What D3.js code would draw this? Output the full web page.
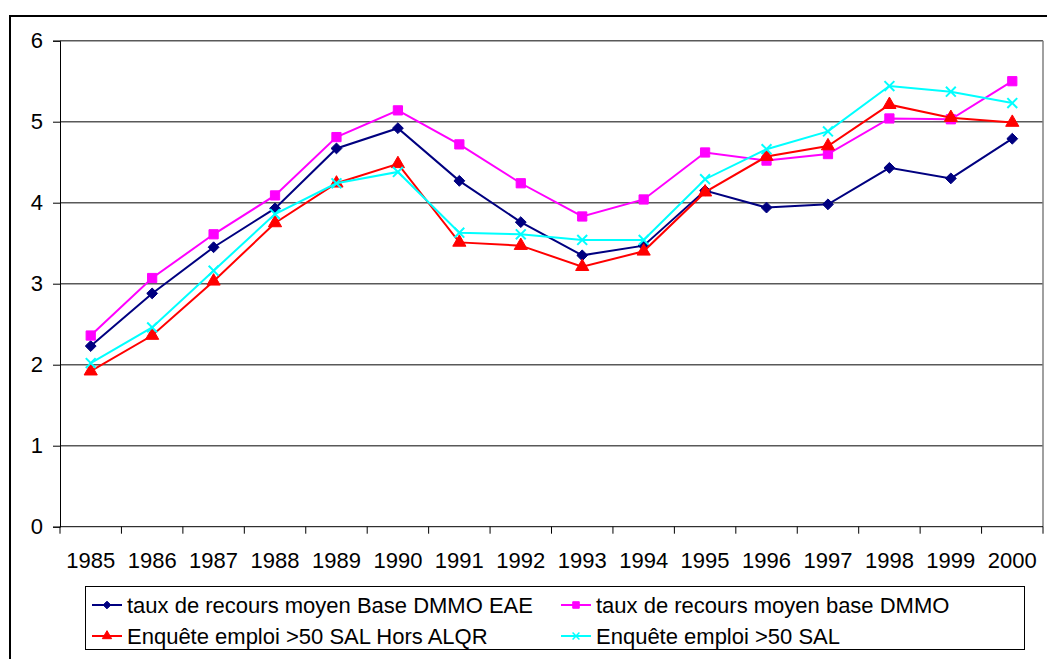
<!DOCTYPE html>
<html>
<head>
    <script src="https://d3js.org/d3.v7.min.js"></script>
    <style>
        body, html { margin: 0; background: #fff; overflow: hidden; }
        text { font-family: Arial, "Liberation Sans", sans-serif; fill: #000; }
    </style>
</head>
<body>
<div id="chart"></div>
<script>
    const years = ["1985","1986","1987","1988","1989","1990","1991","1992","1993","1994","1995","1996","1997","1998","1999","2000"];
    const yTicks = [0, 1, 2, 3, 4, 5, 6];

    const dmmoEae  = [2.23, 2.88, 3.45, 3.93, 4.67, 4.92, 4.27, 3.76, 3.35, 3.47, 4.15, 3.94, 3.98, 4.43, 4.30, 4.79];
    const dmmo     = [2.36, 3.07, 3.61, 4.09, 4.81, 5.14, 4.72, 4.24, 3.83, 4.04, 4.62, 4.52, 4.60, 5.04, 5.03, 5.50];
    const horsAlqr = [1.92, 2.36, 3.03, 3.75, 4.24, 4.48, 3.51, 3.47, 3.21, 3.40, 4.13, 4.57, 4.70, 5.21, 5.05, 4.99];
    const sal50    = [2.02, 2.46, 3.16, 3.86, 4.24, 4.38, 3.63, 3.61, 3.54, 3.54, 4.29, 4.66, 4.88, 5.44, 5.37, 5.23];

    const series = [
        {name: "taux de recours moyen Base DMMO EAE", values: dmmoEae, color: "#000080", symbol: d3.symbolDiamond2, size: 75},
        {name: "taux de recours moyen base DMMO", values: dmmo, color: "#ff00ff", symbol: d3.symbolSquare, size: 85},
        {name: "Enquête emploi >50 SAL Hors ALQR", values: horsAlqr, color: "#ff0000", symbol: d3.symbolTriangle, size: 75},
        {name: "Enquête emploi >50 SAL", values: sal50, color: "#00ffff", symbol: d3.symbolX, size: 65}
    ];

    const width = 1047, height = 659;
    const plot = {left: 60, right: 1043, top: 40.7, bottom: 526.7};
    const fontSize = "22px";

    const svg = d3.select("#chart").append("svg")
        .attr("width", width).attr("height", height);

    // outer chart border (runs off the right and bottom edges)
    svg.append("rect")
        .attr("x", 10).attr("y", 16)
        .attr("width", 1060).attr("height", 660)
        .attr("fill", "none").attr("stroke", "#000").attr("stroke-width", 2);

    const x = d3.scaleBand().domain(years).range([plot.left, plot.right]);
    const y = d3.scaleLinear().domain([0, 6]).range([plot.bottom, plot.top]);

    // gridlines
    svg.append("g").selectAll("line")
        .data(yTicks.filter(d => d > 0))
        .join("line")
        .attr("x1", plot.left).attr("x2", plot.right)
        .attr("y1", d => y(d)).attr("y2", d => y(d))
        .attr("stroke", "#595959").attr("stroke-width", 1.5);

    // plot area right border
    svg.append("line")
        .attr("x1", plot.right).attr("x2", plot.right)
        .attr("y1", plot.top).attr("y2", plot.bottom)
        .attr("stroke", "#808080").attr("stroke-width", 1.5);

    // y axis
    const yAxis = svg.append("g")
        .attr("transform", `translate(${plot.left},0)`)
        .call(d3.axisLeft(y).tickValues(yTicks).tickSize(7).tickPadding(10).tickFormat(d3.format("d")));
    yAxis.select(".domain").attr("stroke", "#000");
    yAxis.selectAll("text").style("font-size", fontSize);

    // x axis, ticks between categories
    svg.append("line")
        .attr("x1", plot.left).attr("x2", plot.right)
        .attr("y1", plot.bottom).attr("y2", plot.bottom)
        .attr("stroke", "#000");
    svg.append("g").selectAll("line")
        .data(years.concat(["end"]))
        .join("line")
        .attr("x1", (d, i) => plot.left + i * x.step())
        .attr("x2", (d, i) => plot.left + i * x.step())
        .attr("y1", plot.bottom).attr("y2", plot.bottom + 7)
        .attr("stroke", "#000");
    svg.append("g").selectAll("text")
        .data(years)
        .join("text")
        .attr("x", d => x(d) + x.bandwidth() / 2)
        .attr("y", 568)
        .attr("text-anchor", "middle")
        .style("font-size", fontSize)
        .text(d => d);

    const cx = (d, i) => x(years[i]) + x.bandwidth() / 2;
    const line = d3.line().x(cx).y(d => y(d));

    series.forEach(s => {
        svg.append("path")
            .datum(s.values)
            .attr("d", line)
            .attr("fill", "none")
            .attr("stroke", s.color)
            .attr("stroke-width", 2);
        const sym = d3.symbol().type(s.symbol).size(s.size);
        svg.append("g").selectAll("path")
            .data(s.values)
            .join("path")
            .attr("transform", (d, i) => `translate(${cx(d, i)},${y(d)})`)
            .attr("d", sym)
            .attr("fill", s.symbol === d3.symbolX ? "none" : s.color)
            .attr("stroke", s.color)
            .attr("stroke-width", s.symbol === d3.symbolX ? 2 : 1);
    });

    // legend
    const legend = svg.append("g");
    legend.append("rect")
        .attr("x", 85.5).attr("y", 586.5)
        .attr("width", 939).attr("height", 63)
        .attr("fill", "#fff").attr("stroke", "#000").attr("stroke-width", 1);

    const legendPos = [[92, 605], [561, 605], [92, 636], [561, 636]];
    series.forEach((s, i) => {
        const [lx, ly] = legendPos[i];
        const g = legend.append("g").attr("transform", `translate(${lx},${ly})`);
        g.append("line")
            .attr("x1", 0).attr("x2", 30).attr("y1", 0).attr("y2", 0)
            .attr("stroke", s.color).attr("stroke-width", 2);
        g.append("path")
            .attr("transform", "translate(15,0)")
            .attr("d", d3.symbol().type(s.symbol).size(s.size * 0.5))
            .attr("fill", s.symbol === d3.symbolX ? "none" : s.color)
            .attr("stroke", s.color)
            .attr("stroke-width", s.symbol === d3.symbolX ? 1.5 : 1);
        g.append("text")
            .attr("x", 35).attr("y", 0)
            .attr("dy", "0.36em")
            .style("font-size", fontSize)
            .text(s.name);
    });
</script>
</body>
</html>
